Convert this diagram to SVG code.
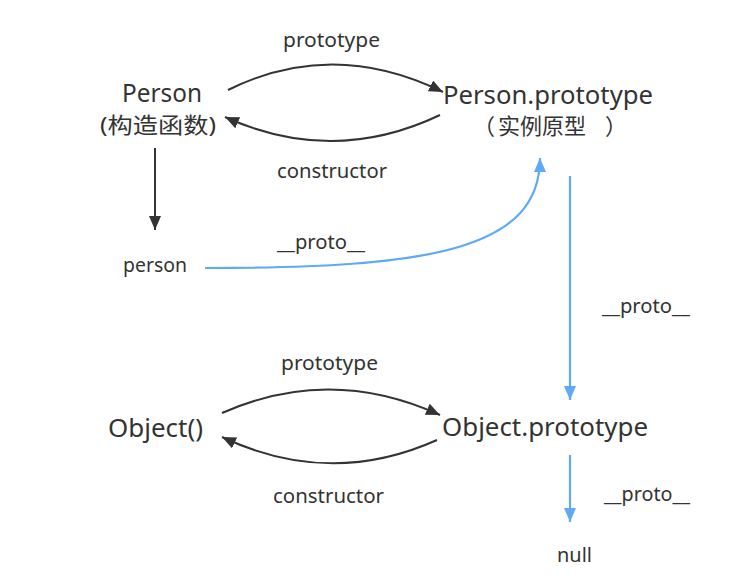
<svg xmlns="http://www.w3.org/2000/svg" width="732" height="580" viewBox="0 0 732 580">
<style>
text{font-family:"Noto Sans","Noto Sans CJK SC",sans-serif;fill:#333}
.big{font-size:26px}
.mid{font-size:22px}
.sm{font-size:19px}
.k{fill:none;stroke:#333;stroke-width:2}
.b{fill:none;stroke:#5fa9f5;stroke-width:2.2}
</style>
<defs>
<marker id="ak" markerUnits="userSpaceOnUse" markerWidth="16" markerHeight="14" refX="14" refY="6" orient="auto"><path d="M0,0 L14,6 L0,12 Z" fill="#333"/></marker>
<marker id="ab" markerUnits="userSpaceOnUse" markerWidth="16" markerHeight="14" refX="14" refY="6" orient="auto"><path d="M0,0 L14,6 L0,12 Z" fill="#5fa9f5"/></marker>
</defs>
<rect width="732" height="580" fill="#fff"/>
<g id="connectors">
<path class="k" d="M228,90 Q333,38 443,92" marker-end="url(#ak)"/>
<path class="k" d="M440,115 Q333,166 225,117" marker-end="url(#ak)"/>
<path class="k" d="M155,148 L155,230" marker-end="url(#ak)"/>
<path class="b" d="M205,268 C430,268 540,250 540,158" marker-end="url(#ab)"/>
<path class="b" d="M570,176 L570,400" marker-end="url(#ab)"/>
<path class="k" d="M222,413 Q330,365 440,415" marker-end="url(#ak)"/>
<path class="k" d="M437,440 Q330,488 222,437" marker-end="url(#ak)"/>
<path class="b" d="M570,455 L570,522" marker-end="url(#ab)"/>
<g id="labels">
<text class="sm" x="283" y="47" textLength="97" lengthAdjust="spacingAndGlyphs">prototype</text>
<text class="sm" x="277" y="178" textLength="110" lengthAdjust="spacingAndGlyphs">constructor</text>
<text class="sm" x="277" y="249" textLength="88" lengthAdjust="spacingAndGlyphs">__proto__</text>
<text class="sm" x="602" y="313" textLength="88" lengthAdjust="spacingAndGlyphs">__proto__</text>
<text class="sm" x="281" y="370" textLength="97" lengthAdjust="spacingAndGlyphs">prototype</text>
<text class="sm" x="273" y="503" textLength="111" lengthAdjust="spacingAndGlyphs">constructor</text>
<text class="sm" x="604" y="501" textLength="86" lengthAdjust="spacingAndGlyphs">__proto__</text>
</g>
</g>
<g id="Person">
<text class="big" x="122" y="102" textLength="80" lengthAdjust="spacingAndGlyphs">Person</text>
<text class="mid" x="100" y="133" textLength="116" lengthAdjust="spacingAndGlyphs">(构造函数)</text>
</g>
<g id="PersonPrototype">
<text class="big" x="443" y="104" textLength="210" lengthAdjust="spacingAndGlyphs">Person.prototype</text>
<text class="mid" x="473 498 520 542 564 605" y="134">（实例原型）</text>
</g>
<g id="person">
<text class="sm" x="123" y="272" textLength="64" lengthAdjust="spacingAndGlyphs">person</text>
</g>
<g id="Object">
<text class="big" x="108" y="437" textLength="95" lengthAdjust="spacingAndGlyphs">Object()</text>
</g>
<g id="ObjectPrototype">
<text class="big" x="442" y="436" textLength="206" lengthAdjust="spacingAndGlyphs">Object.prototype</text>
</g>
<g id="null">
<text class="sm" x="557" y="562" textLength="35" lengthAdjust="spacingAndGlyphs">null</text>
</g>
</svg>
